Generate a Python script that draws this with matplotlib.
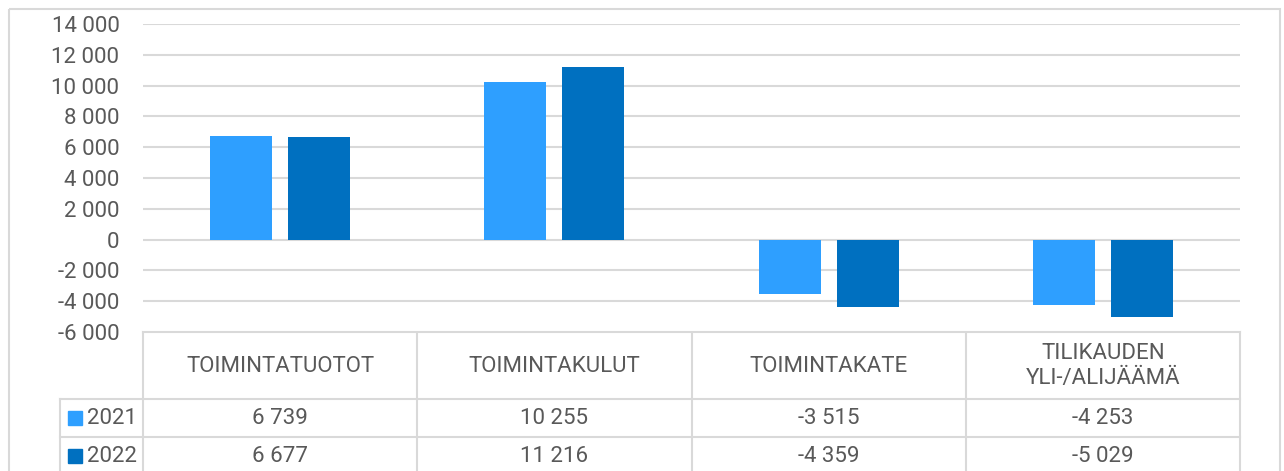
"""
Toimintatuotot, -kulut, -kate ja tilikauden yli-/alijäämä 2021-2022.
"""

import matplotlib
matplotlib.use('Agg')
from matplotlib import pyplot as plt
from matplotlib.patches import Rectangle

categories = ['TOIMINTATUOTOT', 'TOIMINTAKULUT', 'TOIMINTAKATE', 'TILIKAUDEN\nYLI-/ALIJÄÄMÄ']
years = ['2021', '2022']
values_2021 = [6739, 10255, -3515, -4253]
values_2022 = [6677, 11216, -4359, -5029]
y_ticks = [-6000, -4000, -2000, 0, 2000, 4000, 6000, 8000, 10000, 12000, 14000]

colors = ['#2E9FFF', '#0070C0']
grid_color = '#D9D9D9'
text_color = '#595959'
W, H = 1284, 471

plt.rcParams['font.family'] = ['Roboto', 'DejaVu Sans']
fig = plt.figure(figsize=(W / 100, H / 100), dpi=100)


def fmt(v):
    return '{:,}'.format(v).replace(',', ' ')


# bar area: x 143..1240 px, y 24..332 px
left, right, top, bottom = 143, 1240, 24, 332
ax = fig.add_axes([left / W, 1 - bottom / H, (right - left) / W, (bottom - top) / H])
n = len(categories)
xs = list(range(n))
offset, width = 0.142, 0.226
ax.bar([x - offset for x in xs], values_2021, width, color=colors[0], zorder=3)
ax.bar([x + offset for x in xs], values_2022, width, color=colors[1], zorder=3)
ax.set_xlim(-0.5, n - 0.5)
ax.set_ylim(y_ticks[0], y_ticks[-1])
ax.set_yticks(y_ticks)
ax.set_yticklabels([fmt(t) for t in y_ticks], fontsize=16, color=text_color)
ax.tick_params(axis='y', length=0, pad=17)
ax.set_xticks([])
for t in y_ticks:
    ax.axhline(t, color=grid_color, linewidth=1.5, zorder=1)
for s in ax.spines.values():
    s.set_visible(False)

# overlay in pixel coordinates for the data table and outer border
ov = fig.add_axes([0, 0, 1, 1], zorder=-1)
ov.set_xlim(0, W)
ov.set_ylim(H, 0)
ov.axis('off')
ov.add_patch(Rectangle((9, 9), 1271, 480, fill=False, edgecolor=grid_color, linewidth=1.5))

col_edges = [left + (right - left) * i / n for i in range(n + 1)]
row_lines = [332, 399, 437]
lw = 1.5
ov.plot([left, right], [row_lines[0], row_lines[0]], color=grid_color, lw=lw)
for y in row_lines[1:]:
    ov.plot([60, right], [y, y], color=grid_color, lw=lw)
for x in col_edges:
    ov.plot([x, x], [row_lines[0], H], color=grid_color, lw=lw)
ov.plot([60, 60], [row_lines[1], H], color=grid_color, lw=lw)

centers = [(col_edges[i] + col_edges[i + 1]) / 2 for i in range(n)]
for cx, label in zip(centers, categories):
    ov.text(cx, 366, label, ha='center', va='center', fontsize=16,
            color=text_color, linespacing=1.25)

row_y = [418, 456]
for (year, vals, c, ry) in zip(years, [values_2021, values_2022], colors, row_y):
    ov.add_patch(Rectangle((68, ry - 7), 14, 14, color=c))
    ov.text(87, ry, year, ha='left', va='center', fontsize=16, color=text_color)
    for cx, v in zip(centers, vals):
        ov.text(cx, ry, fmt(v), ha='center', va='center', fontsize=16, color=text_color)

fig.savefig('out.png', dpi=100)
